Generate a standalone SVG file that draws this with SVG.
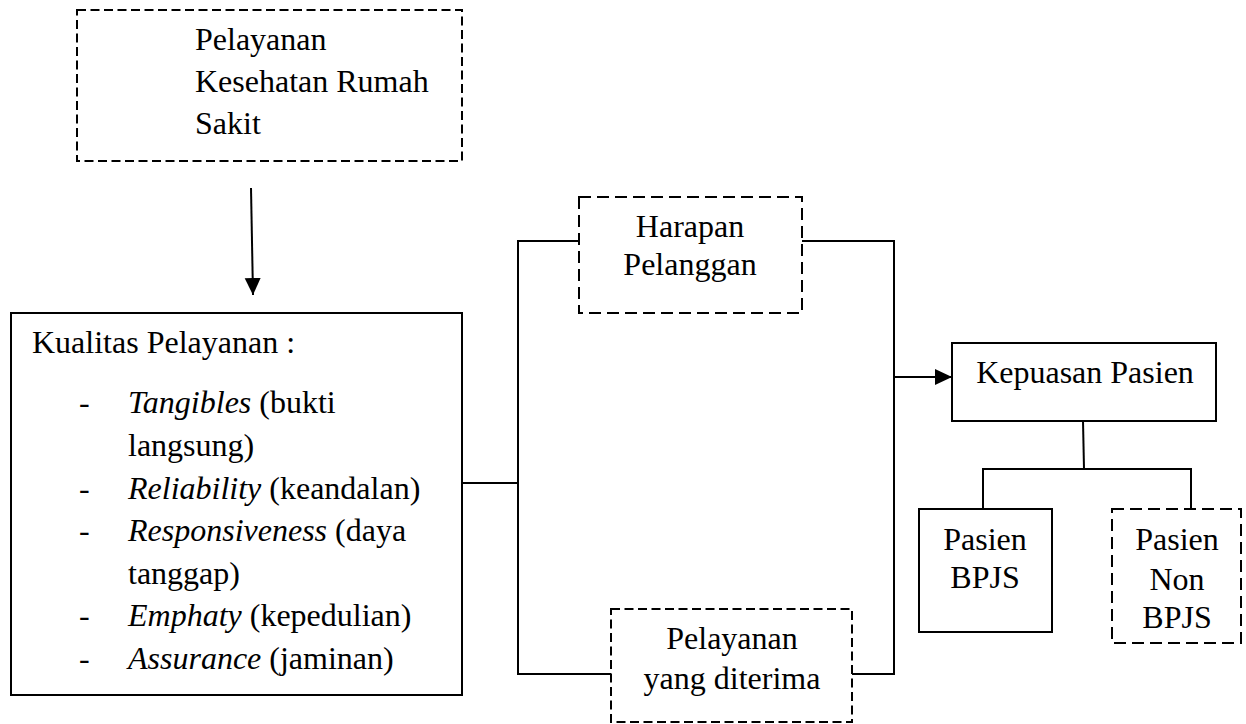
<svg xmlns="http://www.w3.org/2000/svg" width="1246" height="724" viewBox="0 0 1246 724">
<style>
  .box { fill: #ffffff; stroke: #000000; stroke-width: 2; }
  .dashA { stroke-dasharray: 9 4.5; }
  .dashB { stroke-dasharray: 12 6; }
  .t { font-family: "Liberation Serif", "Times New Roman", serif; font-size: 32px; fill: #000000; }
  .c { text-anchor: middle; }
  .i { font-style: italic; }
  .ln { fill: none; stroke: #000000; stroke-width: 2; }
</style>
<defs>
  <marker id="ah" markerUnits="userSpaceOnUse" markerWidth="17" markerHeight="17" viewBox="0 0 17 16" refX="17" refY="8" orient="auto">
    <path d="M0,0 L17,8 L0,16 Z" fill="#000000"/>
  </marker>
</defs>
<rect width="1246" height="724" fill="#ffffff"/>

<g id="connectors">
  <line class="ln" x1="251" y1="188" x2="253" y2="295" marker-end="url(#ah)"/>
  <line class="ln" x1="462" y1="483" x2="518" y2="483"/>
  <polyline class="ln" points="579,241 518,241 518,674 611,674"/>
  <polyline class="ln" points="802,241 894,241 894,674 852,674"/>
  <line class="ln" x1="894" y1="377" x2="952" y2="377" marker-end="url(#ah)"/>
  <line class="ln" x1="1083" y1="421" x2="1084" y2="469"/>
  <polyline class="ln" points="983,509 983,469 1191,469 1191,509"/>
</g>

<g id="node-pelayanan-kesehatan">
  <rect class="box dashA" x="77" y="10" width="385" height="151"/>
  <text class="t" x="195" y="50">Pelayanan</text>
  <text class="t" x="195" y="92">Kesehatan Rumah</text>
  <text class="t" x="195" y="134">Sakit</text>
</g>

<g id="node-kualitas-pelayanan">
  <rect class="box" x="11" y="313" width="451" height="382"/>
  <text class="t" x="32" y="353">Kualitas Pelayanan :</text>
  <text class="t" x="79" y="413">-</text>
  <text class="t" x="128" y="413"><tspan class="i">Tangibles</tspan> (bukti</text>
  <text class="t" x="128" y="456">langsung)</text>
  <text class="t" x="79" y="499">-</text>
  <text class="t" x="128" y="499"><tspan class="i">Reliability</tspan> (keandalan)</text>
  <text class="t" x="79" y="541">-</text>
  <text class="t" x="128" y="541"><tspan class="i">Responsiveness</tspan> (daya</text>
  <text class="t" x="128" y="584">tanggap)</text>
  <text class="t" x="79" y="626">-</text>
  <text class="t" x="128" y="626"><tspan class="i">Emphaty</tspan> (kepedulian)</text>
  <text class="t" x="79" y="669">-</text>
  <text class="t" x="128" y="669"><tspan class="i">Assurance</tspan> (jaminan)</text>
</g>

<g id="node-harapan-pelanggan">
  <rect class="box dashB" x="579" y="197" width="223" height="116"/>
  <text class="t c" x="690" y="237">Harapan</text>
  <text class="t c" x="690" y="275">Pelanggan</text>
</g>

<g id="node-pelayanan-diterima">
  <rect class="box dashA" x="611" y="609" width="241" height="113"/>
  <text class="t c" x="732" y="649">Pelayanan</text>
  <text class="t c" x="732" y="689">yang diterima</text>
</g>

<g id="node-kepuasan-pasien">
  <rect class="box" x="952" y="343" width="264" height="78"/>
  <text class="t c" x="1085" y="383">Kepuasan Pasien</text>
</g>

<g id="node-pasien-bpjs">
  <rect class="box" x="919" y="509" width="133" height="123"/>
  <text class="t c" x="985" y="550">Pasien</text>
  <text class="t c" x="985" y="588">BPJS</text>
</g>

<g id="node-pasien-non-bpjs">
  <rect class="box dashB" x="1112" y="509" width="129" height="134"/>
  <text class="t c" x="1177" y="550">Pasien</text>
  <text class="t c" x="1177" y="590">Non</text>
  <text class="t c" x="1177" y="628">BPJS</text>
</g>
</svg>
